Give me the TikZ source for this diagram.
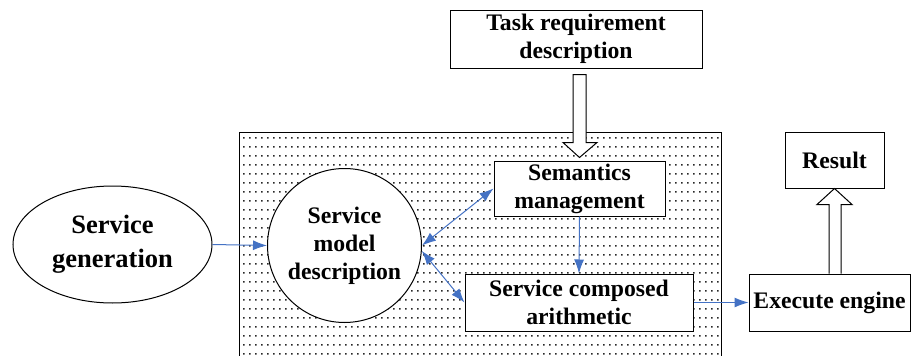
\documentclass[tikz,border=0pt]{standalone}
\usepackage{fontspec}
\setmainfont{Liberation Serif}
\usetikzlibrary{calc,arrows.meta,shapes.geometric}
\definecolor{arrowblue}{RGB}{68,114,196}
\definecolor{dotgray}{RGB}{40,40,40}
\tikzset{
  boxnode/.style={draw=black,line width=1pt,fill=white,align=center,inner sep=0pt,
    font=\fontsize{23.7}{28}\selectfont\bfseries},
  bluearrow/.style={draw=arrowblue,line width=1pt,-{Latex[length=14pt,width=10pt]}},
  bluedouble/.style={draw=arrowblue,line width=1pt,{Latex[length=14pt,width=10pt]}-{Latex[length=14pt,width=10pt]}},
  hollow/.style={draw=black,line width=1pt,fill=white,line join=miter}
}
\begin{document}
\begin{tikzpicture}[x=1pt,y=-1pt]
\clip (0,0) rectangle (911,356);
% dotted region
\draw[line width=1pt] (239,132) rectangle (721,380);
\fill[dotgray] foreach \i in {0,...,79} { foreach \j in {0,...,24} { (243+6*\i,137+9*\j) rectangle ++(1.6,1.6) } };
% nodes
\node[boxnode,minimum width=252pt,minimum height=58pt] (task) at (576,39) {Task requirement\\description};
\node[boxnode,minimum width=171pt,minimum height=55pt] (sem) at (579.5,188.5) {Semantics\\management};
\node[boxnode,minimum width=228pt,minimum height=57pt] (comp) at (579,302.5) {Service composed\\arithmetic};
\node[boxnode,minimum width=161pt,minimum height=57pt] (exec) at (829.5,302.5) {Execute engine};
\node[boxnode,minimum width=99pt,minimum height=56pt] (res) at (834.5,160) {Result};
\node[boxnode,circle,minimum size=154pt] (circ) at (344.5,245.5) {Service\\model\\description};
\node[boxnode,ellipse,minimum width=199pt,minimum height=117pt,
  font=\fontsize{26.5}{34}\selectfont\bfseries] (gen) at (112.5,244.5) {Service\\generation};
% blue connectors
\draw[bluearrow] (gen.east) -- (circ.west);
\draw[bluedouble] (circ.east) -- (sem.west);
\draw[bluedouble] (circ.-4) -- (comp.west);
\draw[bluearrow] (sem.south) -- (comp.north);
\draw[bluearrow] (comp.east) -- (exec.west);
% hollow arrow down (task -> semantics)
\draw[hollow] ($(task.south)+(-3,6)$) -- ($(task.south)+(-3,74)$) -- ($(task.south)+(-13,74)$)
  -- ($(sem.north)+(0,-3)$) -- ($(task.south)+(21,74)$) -- ($(task.south)+(10,74)$)
  -- ($(task.south)+(10,6)$) -- cycle;
% hollow arrow up (execute -> result)
\draw[hollow] ($(exec.north)+(-0.5,0)$) -- ($(exec.north)+(-0.5,-69)$) -- ($(exec.north)+(-12.5,-69)$)
  -- (res.south) -- ($(exec.north)+(22.5,-69)$) -- ($(exec.north)+(11.5,-69)$)
  -- ($(exec.north)+(11.5,0)$);
\end{tikzpicture}
\end{document}
